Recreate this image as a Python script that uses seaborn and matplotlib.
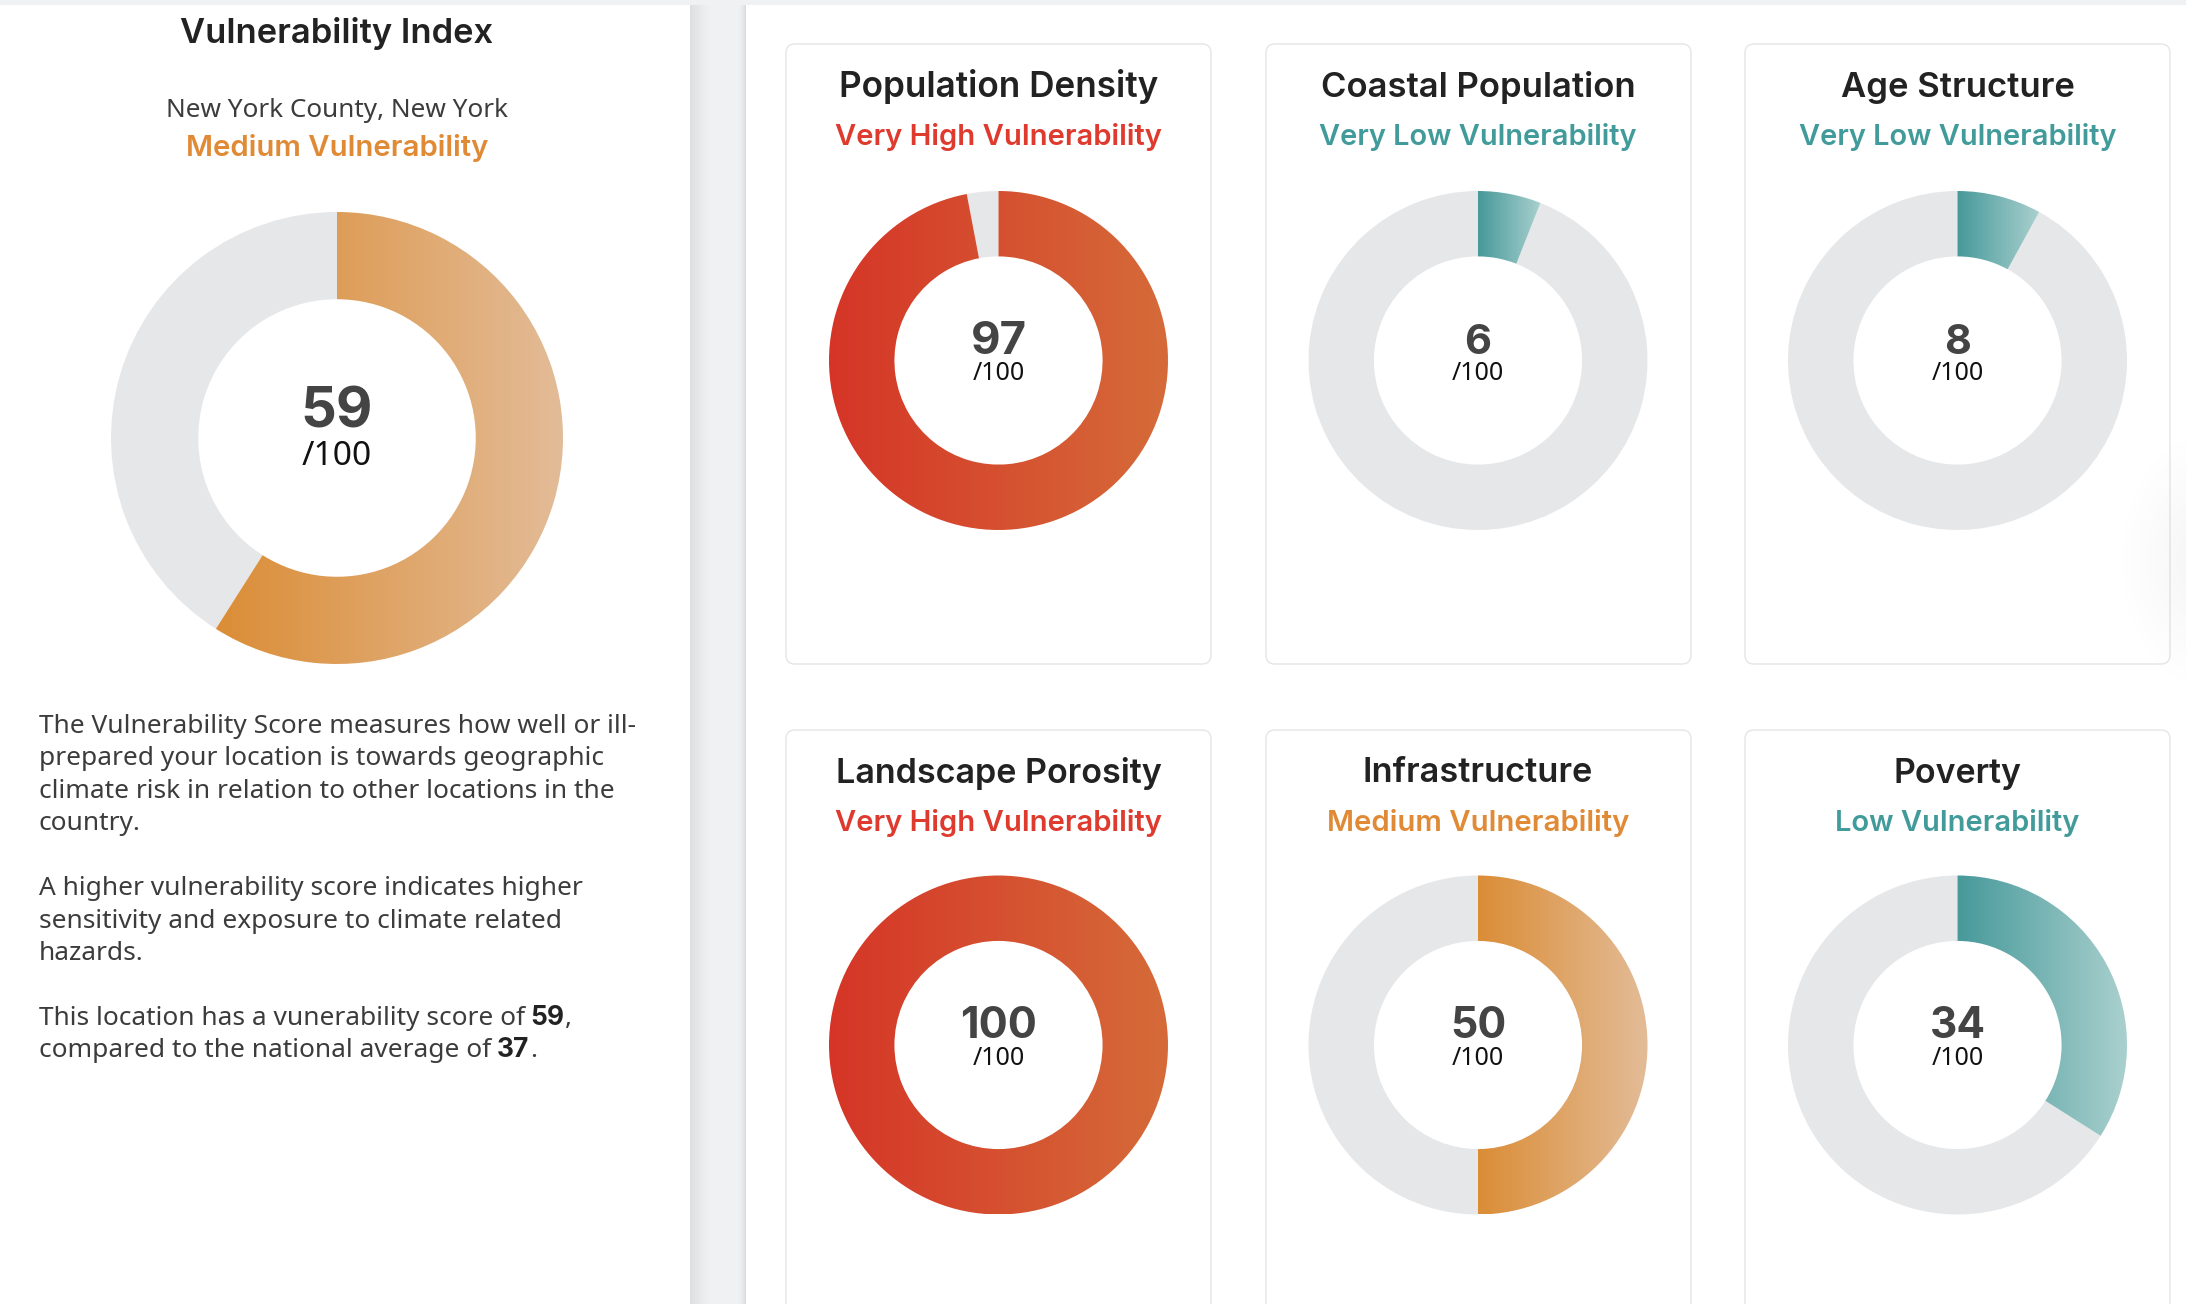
import numpy as np
import matplotlib
matplotlib.use("Agg")
import matplotlib.pyplot as plt
from matplotlib.patches import FancyBboxPatch, Rectangle
import seaborn as sns

# ---- data ----
main_title = "Vulnerability Index"
main_place = "New York County, New York"
main_level = "Medium"
main_score = 59
national_average = 37

card_titles = ["Population Density", "Coastal Population", "Age Structure",
               "Landscape Porosity", "Infrastructure", "Poverty"]
card_levels = ["Very High", "Very Low", "Very Low", "Very High", "Medium", "Low"]
card_scores = [97, 6, 8, 100, 50, 34]

body_lines = [
    "The Vulnerability Score measures how well or ill-",
    "prepared your location is towards geographic",
    "climate risk in relation to other locations in the",
    "country.",
    "A higher vulnerability score indicates higher",
    "sensitivity and exposure to climate related",
    "hazards.",
]

# ---- style ----
W, H = 2186, 1304
DPI = 100
FONT_HEAD = "Inter"
FONT_BODY = "Noto Sans"
BODY_WEIGHT = "light"
BODY_COLOR = "#3c3c3c"
GRAY = "#E6E7E9"
BAND = "#F0F1F3"
level_colors = {
    "Very High": ("#D63527", "#D56B39", "#DE3A2E"),
    "Medium": ("#DB8D36", "#E3BC98", "#E08A35"),
    "Low": ("#47999A", "#A9D0CE", "#429B9B"),
    "Very Low": ("#47999A", "#A9D0CE", "#429B9B"),
}

sns.set_theme(style="white")
plt.rcParams["font.family"] = [FONT_HEAD, "DejaVu Sans"]

fig = plt.figure(figsize=(W / DPI, H / DPI), dpi=DPI, facecolor="white")
bg = fig.add_axes([0, 0, 1, 1])
bg.set_xlim(0, W)
bg.set_ylim(H, 0)
bg.set_axis_off()
renderer = fig.canvas.get_renderer()


def fit_text(x, y, s, width, family=FONT_HEAD, weight="normal", color="#222222", ha="center", va="baseline"):
    """Real text whose font size is chosen so that it spans `width` pixels."""
    t = bg.text(x, y, s, family=family, fontweight=weight, color=color, ha=ha, va=va, fontsize=20)
    w = t.get_window_extent(renderer).width
    t.set_fontsize(20 * width / w)
    return t


def donut(cx, cy, radius, score, level):
    c0, c1, _ = level_colors[level]
    pad = 1.01
    r = radius * pad
    ax = fig.add_axes([(cx - r) / W, 1 - (cy + r) / H, 2 * r / W, 2 * r / H])
    wedges, _t = ax.pie([score, 100 - score], colors=[c0, GRAY], startangle=90, counterclock=False,
                        radius=1, wedgeprops=dict(width=0.386, linewidth=0))
    wedge = wedges[0]
    box = wedge.get_path().get_extents()
    cmap = sns.blend_palette([c0, c1], n_colors=256, as_cmap=True)
    im = ax.imshow(np.linspace(0, 1, 256)[None, :], cmap=cmap, aspect="auto",
                   extent=(box.x0, box.x1, box.y0, box.y1), zorder=3, interpolation="bilinear")
    im.set_clip_path(wedge)
    wedge.set_facecolor("none")
    ax.set_xlim(-pad, pad)
    ax.set_ylim(-pad, pad)
    ax.set_aspect("equal")
    ax.set_axis_off()
    ax.patch.set_visible(False)


# ---- page background ----
bg.add_patch(Rectangle((690, 0), 56, H, fc=BAND, ec="none", zorder=0))
bg.add_patch(Rectangle((0, 0), W, 5, fc=BAND, ec="none", zorder=6))
shade = np.ones((1, 56, 4))
shade[..., :3] = 0.72
xs = np.arange(56)
shade[0, :, 3] = np.maximum(0.32 * np.clip(1 - xs / 22, 0, 1) ** 1.5, 0.35 * np.clip((xs - 47) / 8, 0, 1) ** 2)
bg.imshow(shade, extent=(690, 746, H, 5), aspect="auto", zorder=1)
yy, xx = np.mgrid[430:690, 2120:2186]
glow = np.ones((260, 66, 4))
glow[..., :3] = 0.8
glow[..., 3] = 0.2 * np.clip(1 - np.hypot((xx - 2200) / 80, (yy - 560) / 125), 0, 1)
bg.imshow(glow, extent=(2120, 2186, 690, 430), aspect="auto", zorder=3)
bg.set_xlim(0, W)
bg.set_ylim(H, 0)

# ---- left panel ----
fit_text(337, 43, main_title, 313, weight="semibold", color="#222222")
fit_text(337, 117, main_place, 343, family=FONT_BODY, weight=BODY_WEIGHT, color=BODY_COLOR)
fit_text(337, 156, f"{main_level} Vulnerability", 303, weight="semibold", color=level_colors[main_level][2])
donut(337, 438, 226, main_score, main_level)
fit_text(337, 428, str(main_score), 72, weight="bold", color="#444444")
fit_text(337, 465, "/100", 70, family=FONT_BODY, weight="normal", color="#111111")

line_y = [733, 765, 798, 830, 895, 928, 960]
first = fit_text(39, line_y[0], body_lines[0], 596, family=FONT_BODY, weight=BODY_WEIGHT, color=BODY_COLOR, ha="left")
body_size = first.get_fontsize()
for s, y in zip(body_lines[1:], line_y[1:]):
    bg.text(39, y, s, family=FONT_BODY, fontweight=BODY_WEIGHT, color=BODY_COLOR, fontsize=body_size, va="baseline")


def mixed(x, y, parts):
    for s, fam, w in parts:
        shown = s.rstrip()
        t = bg.text(x, y, shown, family=fam, fontweight=w, color="#222222" if w == "bold" else BODY_COLOR,
                    fontsize=body_size, va="baseline")
        x += t.get_window_extent(renderer).width + (5 if s != shown else 1)


mixed(39, 1025, [("This location has a vunerability score of ", FONT_BODY, BODY_WEIGHT),
                 (str(main_score), FONT_HEAD, "bold"), (",", FONT_BODY, BODY_WEIGHT)])
mixed(39, 1057, [("compared to the national average of ", FONT_BODY, BODY_WEIGHT),
                 (str(national_average), FONT_HEAD, "bold"), (".", FONT_BODY, BODY_WEIGHT)])

# ---- cards ----
card_x = [786, 1266, 1745]
center_x = [998.5, 1478, 1957.5]
row_top = [44, 730]
row_h = [620, 700]
center_y = [360.5, 1045]
title_y = [96.5, 782.5]
sub_y = [145, 831]
title_w = [320, 315, 234, 327, 230, 128]
sub_w = [327, 318, 318, 327, 303, 245]
for i, (title, level, score) in enumerate(zip(card_titles, card_levels, card_scores)):
    col, row = i % 3, i // 3
    bg.add_patch(FancyBboxPatch((card_x[col] + 8, row_top[row] + 8), 425 - 16, row_h[row] - 16,
                                boxstyle="round,pad=8,rounding_size=9", fc="white", ec="#E4E5E7", lw=1.0, zorder=2))
    cx = center_x[col]
    fit_text(cx, title_y[row], title, title_w[i], weight="semibold", color="#222222").set_zorder(4)
    fit_text(cx, sub_y[row], f"{level} Vulnerability", sub_w[i], weight="semibold",
             color=level_colors[level][2]).set_zorder(4)
    donut(cx, center_y[row], 169.5, score, level)
    num_w = {1: 27, 2: 56, 3: 77}[len(str(score))]
    fit_text(cx, center_y[row] - 7, str(score), num_w, weight="bold", color="#444444").set_zorder(4)
    fit_text(cx, center_y[row] + 20, "/100", 52, family=FONT_BODY, color="#111111").set_zorder(4)

fig.savefig("out.png", dpi=DPI, facecolor="white")
